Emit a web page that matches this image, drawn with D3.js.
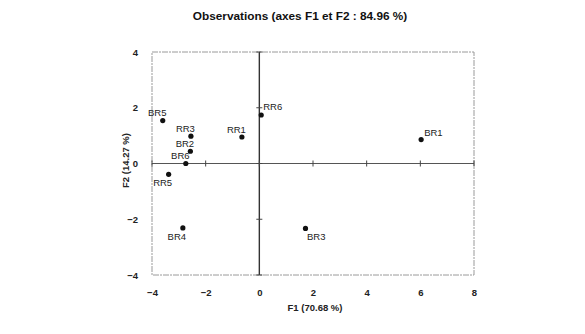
<!DOCTYPE html>
<html><head><meta charset="utf-8">
<script src="https://cdn.jsdelivr.net/npm/d3@7"></script>
<style>body{margin:0;background:#fff;} svg{display:block;font-family:"Liberation Sans",Arial,sans-serif;}</style>
</head><body>
<svg id="c" width="585" height="334"></svg>
<script>
const names = ["BR5","RR3","BR2","BR6","RR5","BR4","RR1","RR6","BR1","BR3"];
const f1 = [-3.6,-2.55,-2.57,-2.74,-3.38,-2.85,-0.65,0.07,6.03,1.72];
const f2 = [1.54,0.98,0.44,0.0,-0.39,-2.31,0.95,1.74,0.86,-2.33];
const labelPos = ["a","a","a","a","b","b","a","r","tr","br"];
const xTicks = [-4,-2,0,2,4,6,8];
const yTicks = [-4,-2,0,2,4];
const title = "Observations (axes F1 et F2 : 84.96 %)";
const xTitle = "F1 (70.68 %)";
const yTitle = "F2 (14.27 %)";

const svg = d3.select("#c");
const x = d3.scaleLinear().domain([-4,8]).range([152,474]);
const y = d3.scaleLinear().domain([-4,4]).range([275,52]);

// frame
svg.append("rect").attr("x",x(-4)).attr("y",y(4)).attr("width",x(8)-x(-4)).attr("height",y(-4)-y(4))
  .attr("fill","none").attr("stroke","#9a9a9a").attr("stroke-width",1).attr("stroke-dasharray","6,1,2,1");

// zero lines
svg.append("line").attr("x1",x(-4)).attr("x2",x(8)).attr("y1",y(0)).attr("y2",y(0)).attr("stroke","#555").attr("stroke-width",1.2);
svg.append("line").attr("x1",x(0)).attr("x2",x(0)).attr("y1",y(4)).attr("y2",y(-4)).attr("stroke","#333").attr("stroke-width",1.4);
// tick marks on zero lines
xTicks.forEach(t=>{svg.append("line").attr("x1",x(t)).attr("x2",x(t)).attr("y1",y(0)-3).attr("y2",y(0)+3).attr("stroke","#444");});
yTicks.forEach(t=>{svg.append("line").attr("x1",x(0)-3).attr("x2",x(0)+3).attr("y1",y(t)).attr("y2",y(t)).attr("stroke","#444");});

// tick labels
const xa = svg.append("g").attr("transform",`translate(0,${y(-4)+11})`)
  .call(d3.axisBottom(x).tickValues(xTicks).tickSize(0).tickFormat(d3.format("d")));
xa.select(".domain").remove();
xa.selectAll("text").attr("font-size",9.5).attr("font-weight","bold").attr("fill","#222").attr("font-family","Liberation Sans, Arial, sans-serif");
const ya = svg.append("g").attr("transform",`translate(${x(-4)-11},0)`)
  .call(d3.axisLeft(y).tickValues(yTicks).tickSize(0).tickFormat(d3.format("d")));
ya.select(".domain").remove();
ya.selectAll("text").attr("font-size",9.5).attr("font-weight","bold").attr("fill","#222").attr("font-family","Liberation Sans, Arial, sans-serif");

// titles
svg.append("text").attr("x",300).attr("y",20).attr("text-anchor","middle").attr("font-size",11.8).attr("font-weight","bold").attr("fill","#111").text(title);
svg.append("text").attr("x",315).attr("y",311).attr("text-anchor","middle").attr("font-size",9.5).attr("font-weight","bold").attr("fill","#222").text(xTitle);
svg.append("text").attr("transform",`translate(129,${y(0)-3}) rotate(-90)`).attr("text-anchor","middle").attr("font-size",9.5).attr("font-weight","bold").attr("fill","#222").text(yTitle);

// points
const data = names.map((n,i)=>({n, a:f1[i], b:f2[i], p:labelPos[i]}));
svg.selectAll("circle.pt").data(data).join("circle").attr("class","pt")
  .attr("cx",d=>x(d.a)).attr("cy",d=>y(d.b)).attr("r",2.6).attr("fill","#111");
const off = {a:[-5.5,-4.5,"middle"], b:[-6,12,"middle"], r:[2,-4.5,"start"], tr:[3,-3.5,"start"], br:[1.5,11.5,"start"]};
svg.selectAll("text.lbl").data(data).join("text").attr("class","lbl")
  .attr("x",d=>x(d.a)+off[d.p][0]).attr("y",d=>y(d.b)+off[d.p][1]).attr("text-anchor",d=>off[d.p][2])
  .attr("font-size",9.5).attr("fill","#222").text(d=>d.n);
</script>
</body></html>
